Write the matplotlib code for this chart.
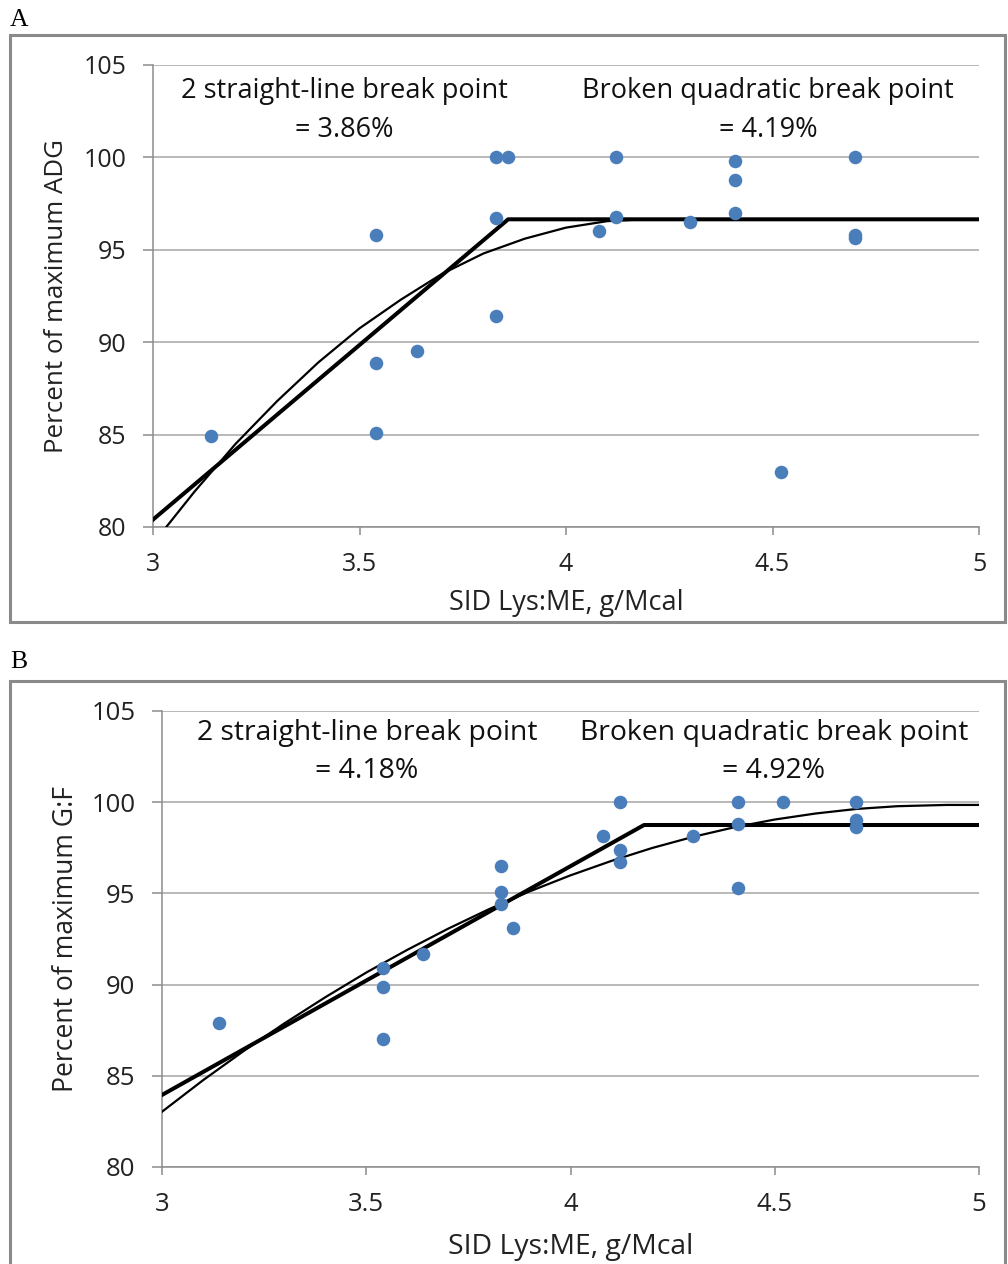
import matplotlib
matplotlib.use("Agg")
import matplotlib.pyplot as plt
from matplotlib.patches import Rectangle

plt.rcParams['font.family'] = ['Open Sans', 'DejaVu Sans']

W, H = 1008, 1264

# ---- panel A : ADG ----
a_x = [3.14, 3.54, 3.54, 3.54, 3.64, 3.83, 3.86, 3.83, 3.83, 4.08, 4.12, 4.12,
       4.30, 4.41, 4.41, 4.41, 4.52, 4.70, 4.70, 4.70]
a_y = [84.9, 95.8, 88.9, 85.1, 89.5, 100.0, 100.0, 96.7, 91.4, 96.0, 100.0, 96.8,
       96.5, 99.8, 98.8, 97.0, 83.0, 100.0, 95.8, 95.65]
a_line_x = [3.0, 3.86, 5.0]
a_line_y = [80.4, 96.65, 96.65]
a_quad_x = [3.0, 3.1, 3.2, 3.3, 3.4, 3.5, 3.6, 3.7, 3.8, 3.9, 4.0, 4.1, 4.19, 5.0]
a_quad_y = [79.1, 81.9, 84.5, 86.8, 88.9, 90.75, 92.3, 93.7, 94.8, 95.6, 96.2,
            96.55, 96.65, 96.65]

# ---- panel B : G:F ----
b_x = [3.14, 3.54, 3.54, 3.54, 3.64, 3.83, 3.83, 3.83, 3.86, 4.08, 4.12, 4.12,
       4.12, 4.30, 4.41, 4.41, 4.41, 4.52, 4.70, 4.70, 4.70]
b_y = [87.9, 90.9, 89.85, 87.0, 91.7, 96.5, 95.1, 94.4, 93.1, 98.15, 100.0, 97.4,
       96.7, 98.15, 100.0, 98.8, 95.3, 100.0, 100.0, 99.0, 98.65]
b_line_x = [3.0, 4.18, 5.0]
b_line_y = [83.95, 98.75, 98.75]
b_quad_x = [3.0, 3.1, 3.2, 3.3, 3.4, 3.5, 3.6, 3.7, 3.8, 3.9, 4.0, 4.1, 4.2, 4.3,
            4.4, 4.5, 4.6, 4.7, 4.8, 4.92, 5.0]
b_quad_y = [83.03, 84.75, 86.36, 87.88, 89.31, 90.66, 91.9, 93.06, 94.13, 95.11,
            95.99, 96.78, 97.49, 98.1, 98.62, 99.05, 99.38, 99.63, 99.78, 99.85, 99.85]

xticks = [3, 3.5, 4, 4.5, 5]
xtick_labels = ['3', '3.5', '4', '4.5', '5']
yticks = [80, 85, 90, 95, 100, 105]

fig = plt.figure(figsize=(W / 100, H / 100), dpi=100)

def px_axes(l, t, r, b):
    return fig.add_axes([l / W, 1 - b / H, (r - l) / W, (b - t) / H])

def box(l, t, r, b):
    fig.patches.append(Rectangle((l / W, 1 - b / H), (r - l) / W, (b - t) / H,
                                 transform=fig.transFigure, fill=False,
                                 edgecolor='#8a8a8a', linewidth=2.2))

def panel(ax, x, y, lx, ly, qx, qy, ylabel, t1, t2, fs, afs, tx1, tx2, ty):
    ax.set_xlim(3, 5)
    ax.set_ylim(80, 105)
    ax.set_xticks(xticks)
    ax.set_xticklabels(xtick_labels)
    ax.set_yticks(yticks)
    ax.grid(axis='y', color='#a6a6a6', linewidth=1.1)
    ax.set_axisbelow(True)
    for s in ['top', 'right']:
        ax.spines[s].set_visible(False)
    for s in ['left', 'bottom']:
        ax.spines[s].set_color('#8c8c8c')
        ax.spines[s].set_linewidth(1.1)
    ax.tick_params(axis='y', length=7, width=1.1, color='#8c8c8c', pad=12,
                   labelsize=fs, labelcolor='#222222')
    ax.tick_params(axis='x', length=6, width=1.1, color='#8c8c8c', pad=12,
                   labelsize=fs, labelcolor='#222222')
    ax.plot(qx, qy, color='black', linewidth=1.6, zorder=3)
    ax.plot(lx, ly, color='black', linewidth=2.9, zorder=3)
    ax.scatter(x, y, s=95, color='#4a7ebb', zorder=4, linewidths=0)
    ax.set_ylabel(ylabel, fontsize=fs + 0.6, color='#222222')
    ax.set_xlabel('SID Lys:ME, g/Mcal', fontsize=afs, color='#222222')
    ax.text(tx1, ty, t1, transform=ax.transAxes, ha='center', va='top',
            fontsize=afs, linespacing=1.5, color='#111111')
    ax.text(tx2, ty, t2, transform=ax.transAxes, ha='center', va='top',
            fontsize=afs, linespacing=1.5, color='#111111')

box(10, 35, 1005, 622)
box(10, 681, 1005, 1275)

fig.text(10 / W, 1 - 20 / H, 'A', family='Liberation Serif', fontsize=18.5,
         va='center', ha='left')
fig.text(10 / W, 1 - 662 / H, 'B', family='Liberation Serif', fontsize=18.5,
         va='center', ha='left')

axA = px_axes(153, 65, 979, 527)
panel(axA, a_x, a_y, a_line_x, a_line_y, a_quad_x, a_quad_y,
      'Percent of maximum ADG',
      '2 straight-line break point\n= 3.86%',
      'Broken quadratic break point\n= 4.19%', 18, 19.5, 0.232, 0.745, 0.973)
axA.yaxis.set_label_coords(-0.102, 0.5)
axA.xaxis.set_label_coords(0.5, -0.135)

axB = px_axes(162, 711, 979, 1167)
panel(axB, b_x, b_y, b_line_x, b_line_y, b_quad_x, b_quad_y,
      'Percent of maximum G:F',
      '2 straight-line break point\n= 4.18%',
      'Broken quadratic break point\n= 4.92%', 18.5, 20.4, 0.251, 0.749, 0.983)
axB.yaxis.set_label_coords(-0.10, 0.5)
axB.xaxis.set_label_coords(0.5, -0.145)

fig.savefig('out.png', dpi=100)
